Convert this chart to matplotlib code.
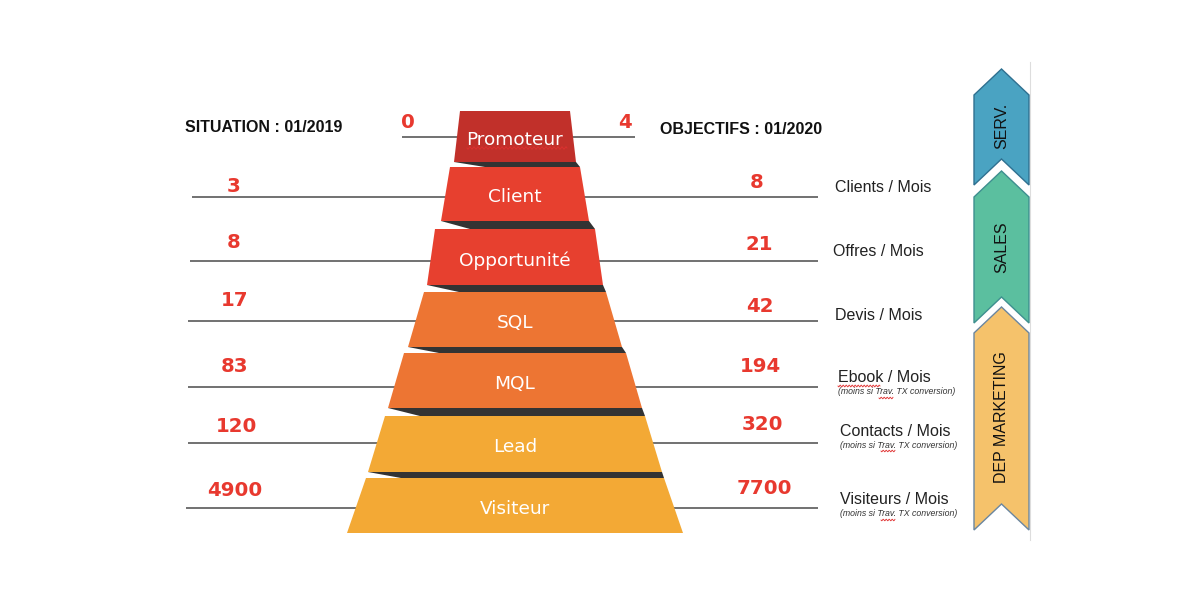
import matplotlib
matplotlib.use("Agg")
import numpy as np
import matplotlib.pyplot as plt
from matplotlib.patches import Polygon

# ---------------- data ----------------
stages = ["Promoteur", "Client", "Opportunité", "SQL", "MQL", "Lead", "Visiteur"]
situation_2019 = [0, 3, 8, 17, 83, 120, 4900]
objectifs_2020 = [4, 8, 21, 42, 194, 320, 7700]
units = [None, "Clients / Mois", "Offres / Mois", "Devis / Mois",
         "Ebook / Mois", "Contacts / Mois", "Visiteurs / Mois"]
notes = [None, None, None, None,
         "(moins si Trav. TX conversion)", "(moins si Trav. TX conversion)",
         "(moins si Trav. TX conversion)"]
left_title = "SITUATION : 01/2019"
right_title = "OBJECTIFS : 01/2020"
departments = ["SERV.", "SALES", "DEP MARKETING"]

# ---------------- layout / style ----------------
band_colors = ["#C1302A", "#E7402F", "#E7402F", "#ED7533", "#ED7533", "#F3A935", "#F3A935"]
cx = 515
band_top = [111, 167, 229, 292, 353, 416, 478]
band_bot = [162, 221, 285, 347, 408, 472, 533]
half_top = [55, 65, 80, 91, 111, 130, 149]
half_bot = [61, 74, 88, 107, 127, 147, 168]
row_y = [137, 197, 261, 321, 387, 443, 508]
line_left = [402, 192, 190, 188, 188, 188, 186]
line_right = [635, 818, 818, 818, 818, 818, 818]
lnum_xy = [(408, 122), (234, 186), (234, 243), (235, 301), (235, 367), (236, 427), (235, 490)]
rnum_xy = [(625, 122), (757, 182), (759, 245), (760, 307), (760, 367), (762, 425), (764, 488)]
unit_xy = [None, (835, 188), (833, 252), (835, 316), (838, 377), (840, 431), (840, 499)]
note_y = [None, None, None, None, 392, 445, 514]
red = "#E8392F"

fig = plt.figure(figsize=(12, 6), dpi=100)
ax = fig.add_axes([0, 0, 1, 1])
ax.set_xlim(0, 1200)
ax.set_ylim(600, 0)
ax.axis("off")


def squiggle(x0, x1, y, amp=1.2, period=4.0):
    xs = np.linspace(x0, x1, int((x1 - x0) * 3))
    ax.plot(xs, y + amp * np.sin(2 * np.pi * (xs - x0) / period),
            color="#E03030", lw=0.6, zorder=6)


# horizontal guide lines
for i in range(len(stages)):
    ax.plot([line_left[i], line_right[i]], [row_y[i], row_y[i]],
            color="#4a4a4a", lw=1.1, zorder=1, solid_capstyle="butt")

# shadows between bands
d = 35
for i in range(len(stages) - 1):
    yb, yt = band_bot[i], band_top[i + 1]
    pts = [(cx - half_bot[i], yb), (cx + half_bot[i], yb),
           (cx + half_top[i + 1], yt), (cx - half_top[i + 1] + d, yt)]
    ax.add_patch(Polygon(pts, closed=True, facecolor="#333333", edgecolor="none", zorder=2))

# funnel bands
for i, name in enumerate(stages):
    pts = [(cx - half_top[i], band_top[i]), (cx + half_top[i], band_top[i]),
           (cx + half_bot[i], band_bot[i]), (cx - half_bot[i], band_bot[i])]
    ax.add_patch(Polygon(pts, closed=True, facecolor=band_colors[i], edgecolor="none", zorder=3))
    ax.text(cx, (band_top[i] + band_bot[i]) / 2 + 3.5, name, color="white",
            fontsize=13.3, family="DejaVu Sans", ha="center", va="center", zorder=4)
squiggle(467, 567, 148)

# numbers
for i in range(len(stages)):
    ax.text(*lnum_xy[i], f"{situation_2019[i]}", color=red, fontsize=14.2,
            fontweight="bold", family="DejaVu Sans", ha="center", va="center", zorder=5)
    ax.text(*rnum_xy[i], f"{objectifs_2020[i]}", color=red, fontsize=14.2,
            fontweight="bold", family="DejaVu Sans", ha="center", va="center", zorder=5)

# titles
ax.text(185, 128, left_title, fontsize=11.5, fontweight="bold", family="Liberation Sans",
        ha="left", va="center", color="#111111")
ax.text(660, 129, right_title, fontsize=11.5, fontweight="bold", family="Liberation Sans",
        ha="left", va="center", color="#111111")

# units
for i in range(len(stages)):
    if units[i]:
        ax.text(*unit_xy[i], units[i], fontsize=11.5, family="Liberation Sans",
                ha="left", va="center", color="#222222")
    if notes[i]:
        ax.text(unit_xy[i][0], note_y[i], notes[i], fontsize=6.3, style="italic",
                family="Liberation Sans", ha="left", va="center", color="#333333")
squiggle(838, 880, 386, amp=0.9, period=3.0)
for ny in note_y[4:]:
    pass
squiggle(879, 893, 398, amp=0.8, period=3.0)
squiggle(881, 895, 451, amp=0.8, period=3.0)
squiggle(881, 895, 520, amp=0.8, period=3.0)

# department chevrons
chev_x0, chev_x1 = 974, 1029
chev_mid = (chev_x0 + chev_x1) / 2
chev_tops = [69, 171, 307]
chev_bots = [185, 323, 530]
depth = 26
chev_fill = ["#4AA3C2", "#5BBF9F", "#F5C26B"]
chev_edge = ["#2F7090", "#3E8F8F", "#6A86A0"]
label_cy = [126, 247, 417]
for k, lab in enumerate(departments):
    t, b = chev_tops[k], chev_bots[k]
    pts = [(chev_mid, t), (chev_x1, t + depth), (chev_x1, b),
           (chev_mid, b - depth), (chev_x0, b), (chev_x0, t + depth)]
    ax.add_patch(Polygon(pts, closed=True, facecolor=chev_fill[k], edgecolor=chev_edge[k],
                         lw=1.0, zorder=3))
    ax.text(chev_mid, label_cy[k], lab, rotation=90, fontsize=11.5, family="Liberation Sans",
            ha="center", va="center", color="#111111", zorder=4)

ax.plot([1030, 1030], [62, 540], color="#dddddd", lw=0.8, zorder=0)

fig.savefig("out.png", dpi=100)
